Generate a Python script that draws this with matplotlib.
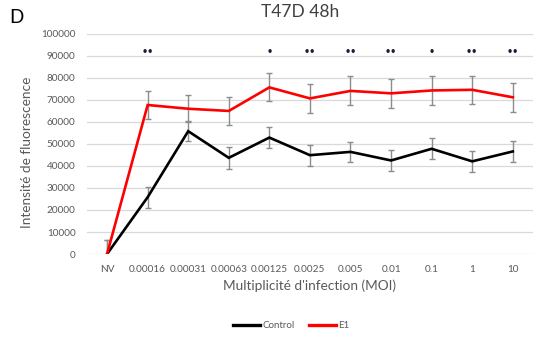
import matplotlib
matplotlib.use("Agg")
import matplotlib.pyplot as plt
import numpy as np

plt.rcParams['font.family'] = ['Lato', 'DejaVu Sans']

categories = ["NV", "0.00016", "0.00031", "0.00063", "0.00125", "0.0025",
              "0.005", "0.01", "0.1", "1", "10"]
control = [0, 25800, 55800, 43700, 52900, 44900, 46400, 42500, 47800, 42100, 46600]
control_err = [6500, 4700, 4500, 5000, 4700, 4700, 4700, 4600, 4700, 4700, 4800]
e1 = [0, 67700, 66000, 65000, 75700, 70700, 74100, 73000, 74300, 74600, 71200]
e1_err = [6500, 6500, 6200, 6400, 6400, 6600, 6600, 6600, 6600, 6500, 6500]
signif = ["", "••", "", "", "•", "••", "••", "••", "•", "••", "••"]
signif_y = 92000

fig = plt.figure(figsize=(5.39, 3.39), dpi=100)
ax = fig.add_axes([0.161, 0.2507, 0.828, 0.6493])

x = np.arange(len(categories))

ax.errorbar(x, control, yerr=control_err, fmt="none", ecolor="#8c8c8c",
            elinewidth=1.0, capsize=2.2, capthick=1.0, zorder=2)
ax.errorbar(x, e1, yerr=e1_err, fmt="none", ecolor="#8c8c8c",
            elinewidth=1.0, capsize=2.2, capthick=1.0, zorder=2)
ax.plot(x, control, color="black", lw=1.9, label="Control", zorder=3,
        solid_joinstyle="miter")
ax.plot(x, e1, color="#ff0000", lw=1.9, label="E1", zorder=3,
        solid_joinstyle="miter")

for xi, s in zip(x, signif):
    if s:
        ax.text(xi, signif_y, s, ha="center", va="center", fontsize=7,
                color="#1a1f33", family="DejaVu Sans", fontweight="bold")

ax.set_xlim(-0.5, len(categories) - 0.5)
ax.set_ylim(0, 100000)
ax.set_yticks(np.arange(0, 100001, 10000))
ax.set_yticklabels([str(v) for v in range(0, 100001, 10000)])
ax.set_xticks(x)
ax.set_xticklabels(categories)
ax.tick_params(axis="both", length=0, labelsize=7.2, labelcolor="#595959")
ax.tick_params(axis="y", pad=8)
ax.tick_params(axis="x", pad=8)
ax.grid(axis="y", color="#d9d9d9", lw=0.9)
ax.set_axisbelow(True)
for sp in ax.spines.values():
    sp.set_visible(False)

ax.set_xlabel("Multiplicité d'infection (MOI)", fontsize=9.8, color="#595959",
              labelpad=4)
fig.text(0.05, 0.5507, "Intensité de fluorescence", rotation=90, ha="center",
         va="center", fontsize=9.8, color="#595959")
fig.text(0.557, 0.965, "T47D 48h", ha="center", va="center", fontsize=12.5,
         color="#404040")
fig.text(0.017, 0.948, "D", ha="left", va="center", fontsize=13.5,
         color="black")

leg = fig.legend(loc="center", bbox_to_anchor=(0.54, 0.04), ncol=2,
                 frameon=False, fontsize=7, handlelength=2.8,
                 handletextpad=0.2, columnspacing=1.5)
for t in leg.get_texts():
    t.set_color("#595959")
for h in leg.get_lines():
    h.set_linewidth(2.4)

fig.savefig("out.png", dpi=100)
